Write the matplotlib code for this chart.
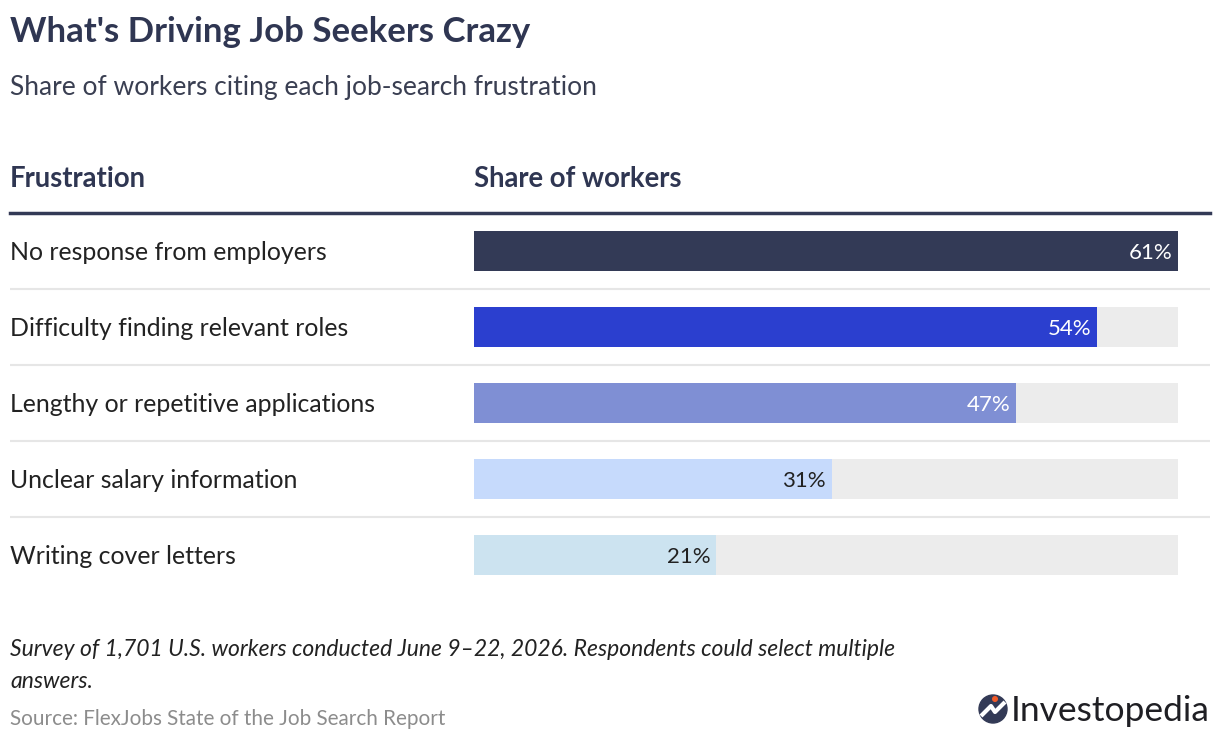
import numpy as np
import matplotlib.pyplot as plt
from matplotlib.patches import Circle

# data
frustrations = ["No response from employers", "Difficulty finding relevant roles",
                "Lengthy or repetitive applications", "Unclear salary information",
                "Writing cover letters"]
shares = [61, 54, 47, 31, 21]
bar_colors = ["#333a56", "#2b3fcf", "#7f8fd4", "#c6dafc", "#cce3f0"]
label_colors = ["white", "white", "white", "#222222", "#222222"]

W, H = 1220, 740
plt.rcParams['font.family'] = ['Lato', 'DejaVu Sans']
fig = plt.figure(figsize=(W / 100, H / 100), dpi=100)

navy = "#2f3652"
dy = 2  # small nudge down for Lato's centring

fig.text(10 / W, 1 - (30 + dy) / H, "What's Driving Job Seekers Crazy", fontsize=25, weight='bold',
         color=navy, va='center', ha='left')
fig.text(10 / W, 1 - (85 + dy) / H, "Share of workers citing each job-search frustration", fontsize=19,
         color="#3a3f52", va='center', ha='left')
fig.text(10 / W, 1 - (177 + dy) / H, "Frustration", fontsize=19.8, weight='bold', color=navy, va='center')
fig.text(474 / W, 1 - (177 + dy) / H, "Share of workers", fontsize=19.8, weight='bold', color=navy, va='center')

# bar area: full width, rows 213..593 px
top, bottom = 213, 593
ax = fig.add_axes([10 / W, 1 - bottom / H, 1200 / W, (bottom - top) / H])
vmax = max(shares)
ppu = (1178 - 474) / vmax
ax.set_xlim(-(474 - 10) / ppu, vmax + (1210 - 1178) / ppu)
ax.set_ylim(len(shares) - 0.5, -0.5)
ax.axis('off')

y = np.arange(len(shares))
ax.barh(y, [vmax] * len(shares), height=40 / 76, color="#ececec", left=0)
ax.barh(y, shares, height=40 / 76, color=bar_colors, left=0)
for i, (name, v) in enumerate(zip(frustrations, shares)):
    ax.text(-(474 - 10) / ppu, i + dy / 76, name, fontsize=17.9, color="#222222", va='center', ha='left')
    ax.text(v - 6 / ppu, i + dy / 76, f"{v}%", fontsize=16, color=label_colors[i], va='center', ha='right')
for i in range(len(shares) - 1):
    ax.axhline(i + 0.5, color="#e6e6e6", lw=1.5)
ax.axhline(-0.5, color="#333a56", lw=2.5, clip_on=False)

# footer
fig.text(10 / W, 1 - (648 + dy) / H, "Survey of 1,701 U.S. workers conducted June 9\u201322, 2026. Respondents could select multiple",
         fontsize=16.45, style='italic', color="#222222", va='center')
fig.text(10 / W, 1 - (679 + dy) / H, "answers.", fontsize=16.45, style='italic', color="#222222", va='center')
fig.text(10 / W, 1 - (717 + dy) / H, "Source: FlexJobs State of the Job Search Report", fontsize=14.9,
         color="#8c8c8c", va='center')

# logo
lax = fig.add_axes([0, 0, 1, 1], facecolor='none')
lax.set_xlim(0, W)
lax.set_ylim(H, 0)
lax.axis('off')
lax.add_patch(Circle((993, 709), 14, color="#333a56"))
lax.plot([981, 991, 995, 1005], [716, 706, 712, 702], color="white", lw=3, solid_capstyle='butt')
lax.add_patch(Circle((995, 699), 2.3, color="#f05a28"))
lax.text(1011, 711, "Investopedia", fontsize=25.5, color="#1f1f24", va='center', ha='left')

fig.savefig("out.png", dpi=100, facecolor='white')
